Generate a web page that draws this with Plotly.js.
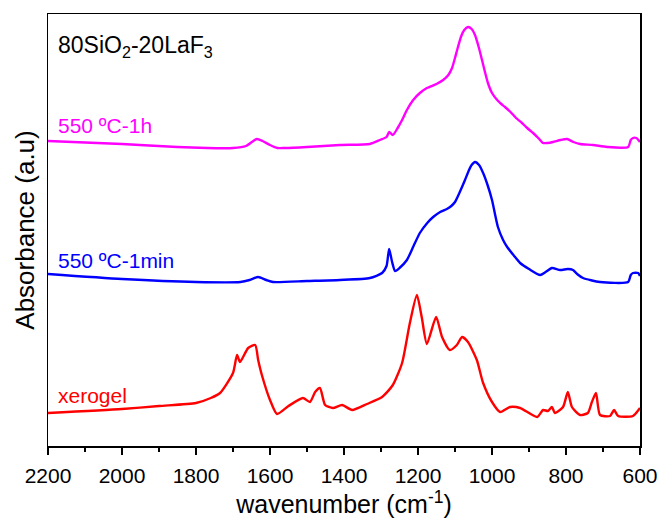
<!DOCTYPE html>
<html>
<head>
<meta charset="utf-8">
<script src="https://cdn.plot.ly/plotly-3.0.1.min.js"></script>
<style>html,body{margin:0;padding:0;background:#fff;}#chart{width:662px;height:519px;}</style>
</head>
<body>
<div id="chart"></div>
<script>
// Wavenumber (cm-1) and absorbance (a.u., stacked offsets as in figure)
const wn_1h = [2200,2000,1850,1770,1700,1665,1645,1635,1620,1600,1580,1560,1500,1411,1330,1303,1285,1278,1268,1255,1243,1230,1213,1195,1176,1150,1132,1118,1108,1100,1092,1083,1075,1065,1055,1046,1036,1027,1019,1011,1000,986,975,965,950,935,919,905,889,875,862,850,835,815,797,780,762,727,689,632,625,619,610,600];
const abs_1h = [3.05,3.02,2.99,2.98,2.98,3.00,3.05,3.07,3.05,3.01,2.98,2.98,2.99,3.01,3.02,3.06,3.09,3.14,3.11,3.18,3.26,3.36,3.46,3.53,3.58,3.62,3.66,3.71,3.78,3.88,3.99,4.10,4.16,4.19,4.17,4.11,3.99,3.86,3.74,3.63,3.53,3.46,3.42,3.39,3.34,3.28,3.23,3.18,3.13,3.08,3.03,3.03,3.04,3.06,3.07,3.04,3.02,3.01,2.99,2.99,3.06,3.08,3.08,3.04];

const wn_1min = [2200,2000,1800,1680,1655,1632,1610,1592,1500,1411,1330,1297,1285,1278,1270,1262,1250,1230,1212,1195,1175,1159,1140,1122,1110,1100,1087,1073,1062,1055,1046,1035,1024,1012,1000,992,984,970,959,940,924,900,870,855,838,816,795,781,770,754,708,632,625,619,605,600];
const abs_1min = [1.72,1.67,1.64,1.64,1.66,1.69,1.66,1.64,1.65,1.66,1.68,1.73,1.80,1.97,1.84,1.75,1.78,1.86,2.00,2.13,2.23,2.29,2.34,2.37,2.40,2.44,2.54,2.66,2.76,2.81,2.84,2.81,2.73,2.61,2.46,2.32,2.19,2.06,1.99,1.90,1.83,1.77,1.71,1.74,1.78,1.76,1.77,1.76,1.72,1.68,1.64,1.64,1.71,1.73,1.73,1.70];

const wn_xero = [2200,2000,1900,1800,1760,1735,1700,1689,1681,1659,1640,1632,1622,1600,1581,1550,1511,1492,1478,1465,1451,1430,1405,1378,1338,1297,1268,1243,1222,1203,1190,1176,1151,1135,1114,1095,1081,1065,1041,1024,1000,978,951,924,878,862,849,838,830,808,795,784,762,741,730,719,708,681,670,659,619,600];
const abs_xero = [0.33,0.37,0.40,0.43,0.48,0.53,0.73,0.91,0.84,0.98,1.01,0.86,0.71,0.46,0.32,0.40,0.48,0.44,0.54,0.58,0.41,0.38,0.41,0.36,0.42,0.49,0.61,0.83,1.23,1.51,1.29,1.02,1.29,1.09,0.96,1.01,1.09,1.04,0.86,0.63,0.44,0.34,0.39,0.38,0.29,0.36,0.35,0.39,0.33,0.39,0.54,0.39,0.31,0.33,0.44,0.53,0.31,0.30,0.36,0.30,0.30,0.38];

const labels = ["550 ºC-1h", "550 ºC-1min", "xerogel"];
const colors = ["#ff00ff", "#0000ff", "#ff0000"];
const xTicks = [2200,2000,1800,1600,1400,1200,1000,800,600];

const FONT = "Arial, 'Liberation Sans', sans-serif";
const series = [[wn_1h, abs_1h],[wn_1min, abs_1min],[wn_xero, abs_xero]];
const traces = series.map((s,i)=>({
  x: s[0], y: s[1], type: 'scatter', mode: 'lines', name: labels[i],
  line: {color: colors[i], width: 2.4, shape: 'spline', smoothing: 0.6}
}));

const labelY = [0.742, 0.43, 0.118];
const annotations = labels.map((t,i)=>({
  text: t, xref: 'paper', yref: 'paper', x: 0.014, y: labelY[i],
  xanchor: 'left', yanchor: 'middle', showarrow: false,
  font: {family: FONT, size: 21, color: colors[i]}
}));
annotations.push({
  text: "80SiO<sub>2</sub>-20LaF<sub>3</sub>", xref: 'paper', yref: 'paper',
  x: 0.014, y: 0.925, xanchor: 'left', yanchor: 'middle', showarrow: false,
  font: {family: FONT, size: 23, color: '#000'}
});

const layout = {
  width: 662, height: 519,
  margin: {l: 48, r: 22, t: 14, b: 73},
  paper_bgcolor: '#fff', plot_bgcolor: '#fff',
  showlegend: false,
  font: {family: FONT, color: '#000'},
  xaxis: {
    range: [2200, 600], autorange: false,
    tickvals: xTicks, ticktext: xTicks.map(String),
    ticks: 'outside', ticklen: 7, tickwidth: 1.3, tickcolor: '#000',
    ticklabelstandoff: 3,
    minor: {ticks: 'outside', ticklen: 4, tickwidth: 1.3, tickcolor: '#000', dtick: 100, tick0: 600},
    showgrid: false, zeroline: false,
    showline: true, linecolor: '#000', linewidth: 1.5, mirror: true,
    tickfont: {family: FONT, size: 21, color: '#000'},
    title: {text: "wavenumber (cm<sup>-1</sup>)", font: {family: FONT, size: 25, color: '#000'}, standoff: 10}
  },
  yaxis: {
    range: [0, 4.32], autorange: false,
    showticklabels: false, ticks: '',
    showgrid: false, zeroline: false,
    showline: true, linecolor: '#000', linewidth: 1.5, mirror: true,
    title: {text: "Absorbance (a.u)", font: {family: FONT, size: 26, color: '#000'}, standoff: 4}
  },
  annotations: annotations
};

Plotly.newPlot('chart', traces, layout, {staticPlot: true, displayModeBar: false});
</script>
</body>
</html>
